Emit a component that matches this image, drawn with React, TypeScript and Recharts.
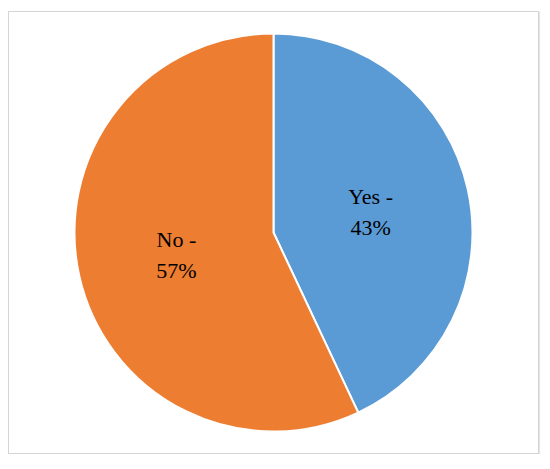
import React from 'react';
import { PieChart, Pie, Cell } from 'recharts';

const categories = ['Yes', 'No'];
const shares = [43, 57];
const colors = ['#5B9BD5', '#ED7D31'];

const data = categories.map((name, i) => ({ name, value: shares[i] }));

const RADIAN = Math.PI / 180;

const renderLabel = (props: any) => {
  const { cx, cy, midAngle, outerRadius, name, value } = props;
  const r = outerRadius * 0.5;
  const x = cx + r * Math.cos(-midAngle * RADIAN);
  const y = cy + r * Math.sin(-midAngle * RADIAN);
  return (
    <text
      x={x}
      y={y}
      textAnchor="middle"
      fill="#000"
      style={{ fontFamily: '"Liberation Serif", "DejaVu Serif", serif', fontSize: 22 }}
    >
      <tspan x={x} y={y - 7}>{name} -</tspan>
      <tspan x={x} y={y + 24}>{value}%</tspan>
    </text>
  );
};

const App: React.FC = () => {
  return (
    <div
      style={{
        marginTop: 3,
        width: 531,
        height: 443,
        border: '1px solid #d4d4d4',
        boxShadow: '1px 1px 1px #e6e6e6',
        boxSizing: 'border-box',
        background: '#fff',
      }}
    >
      <PieChart width={529} height={441} margin={{ top: 0, right: 0, bottom: 0, left: 0 }}>
        <Pie
          data={data}
          dataKey="value"
          nameKey="name"
          cx={264.5}
          cy={220.5}
          outerRadius={199}
          startAngle={90}
          endAngle={-270}
          stroke="#fff"
          strokeWidth={2}
          label={renderLabel}
          labelLine={false}
          isAnimationActive={false}
        >
          {data.map((d, i) => (
            <Cell key={d.name} fill={colors[i]} />
          ))}
        </Pie>
      </PieChart>
    </div>
  );
};

export default App;
